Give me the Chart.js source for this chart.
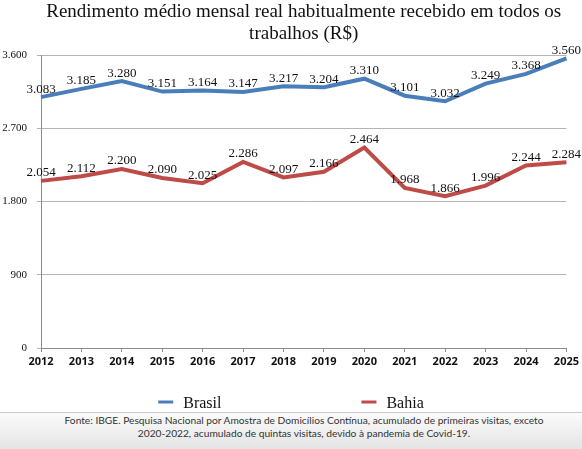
<!DOCTYPE html>
<html lang="pt-BR">
<head>
    <meta charset="UTF-8">
    <title>Rendimento médio mensal real</title>
    <script src="https://cdn.jsdelivr.net/npm/chart.js"></script>
    <style>
        html, body {
            margin: 0;
            padding: 0;
            background: #ffffff;
        }

        #wrap {
            width: 582px;
            height: 449px;
            overflow: hidden;
        }

        #footer {
            height: 37px;
            border-top: 1px solid #c8c8c8;
            background: linear-gradient(#fbfbfb, #e4e4e4);
            box-sizing: border-box;
            font-family: Lato, sans-serif;
            font-size: 10.2px;
            line-height: 13px;
            color: #333;
            text-align: center;
            padding: 1px 0 0 26px;
        }
    </style>
</head>
<body>
    <div id="wrap">
        <canvas id="chart" width="582" height="412"></canvas>
        <div id="footer">
            Fonte: IBGE. Pesquisa Nacional por Amostra de Domicílios Contínua, acumulado de primeiras visitas, exceto<br>
            2020-2022, acumulado de quintas visitas, devido à pandemia de Covid-19.
        </div>
    </div>

    <script>
        const years = ['2012', '2013', '2014', '2015', '2016', '2017', '2018', '2019', '2020', '2021', '2022', '2023', '2024', '2025'];
        const brasil = [3083, 3185, 3280, 3151, 3164, 3147, 3217, 3204, 3310, 3101, 3032, 3249, 3368, 3560];
        const bahia = [2054, 2112, 2200, 2090, 2025, 2286, 2097, 2166, 2464, 1968, 1866, 1996, 2244, 2284];
        const yTicks = [0, 900, 1800, 2700, 3600];

        const BLUE = '#4a7ebb';
        const RED = '#be4b48';

        function fmt(v) {
            return String(v).replace(/\B(?=(\d{3})+(?!\d))/g, '.');
        }

        // numbers above every point
        const pointLabels = {
            id: 'pointLabels',
            afterDatasetsDraw(chart) {
                const ctx = chart.ctx;
                ctx.save();
                ctx.font = '13px "Liberation Serif", serif';
                ctx.fillStyle = '#111';
                ctx.textAlign = 'center';
                ctx.textBaseline = 'middle';
                chart.data.datasets.forEach((ds, i) => {
                    chart.getDatasetMeta(i).data.forEach((pt, j) => {
                        ctx.fillText(fmt(ds.data[j]), pt.x, pt.y - 8);
                    });
                });
                ctx.restore();
            }
        };

        // legend with wide gap, like the original
        const wideLegend = {
            id: 'wideLegend',
            afterDraw(chart) {
                const ctx = chart.ctx;
                const gap = 140;
                const marker = 15;
                const y = 404;
                ctx.save();
                ctx.font = '16px "Liberation Serif", serif';
                const items = chart.data.datasets.map(ds => ({
                    text: ds.label,
                    color: ds.borderColor,
                    w: marker + 10 + ctx.measureText(ds.label).width
                }));
                const total = items.reduce((s, it) => s + it.w, 0) + gap * (items.length - 1);
                let x = chart.width / 2 - total / 2;
                items.forEach(it => {
                    ctx.strokeStyle = it.color;
                    ctx.lineWidth = 3;
                    ctx.beginPath();
                    ctx.moveTo(x, y - 2);
                    ctx.lineTo(x + marker, y - 2);
                    ctx.stroke();
                    ctx.fillStyle = '#111';
                    ctx.textAlign = 'left';
                    ctx.textBaseline = 'middle';
                    ctx.fillText(it.text, x + marker + 10, y);
                    x += it.w + gap;
                });
                ctx.restore();
            }
        };

        const ctx = document.getElementById('chart').getContext('2d');
        new Chart(ctx, {
            type: 'line',
            data: {
                labels: years,
                datasets: [{
                    label: 'Brasil',
                    data: brasil,
                    borderColor: BLUE,
                    backgroundColor: BLUE,
                    borderWidth: 4,
                    pointRadius: 0,
                    tension: 0
                }, {
                    label: 'Bahia',
                    data: bahia,
                    borderColor: RED,
                    backgroundColor: RED,
                    borderWidth: 4,
                    pointRadius: 0,
                    tension: 0
                }]
            },
            options: {
                responsive: false,
                animation: false,
                devicePixelRatio: 1,
                layout: {
                    padding: { left: 0, right: 15, top: 0, bottom: 0 }
                },
                plugins: {
                    legend: { display: false },
                    tooltip: { enabled: false },
                    title: {
                        display: true,
                        fullSize: false,
                        text: ['Rendimento médio mensal real habitualmente recebido em todos os', 'trabalhos (R$)'],
                        color: '#111',
                        font: { family: '"Liberation Serif", serif', size: 19, weight: 'normal', lineHeight: 1.16 },
                        padding: { top: 1, bottom: 10 }
                    }
                },
                scales: {
                    x: {
                        offset: false,
                        afterFit(scale) { scale.height = 64; },
                        border: { color: '#8c8c8c', width: 1 },
                        grid: { drawOnChartArea: false, drawTicks: true, tickLength: 4, color: '#8c8c8c' },
                        ticks: {
                            color: '#111',
                            padding: 3,
                            maxRotation: 0,
                            autoSkip: false,
                            font: { family: '"Open Sans", sans-serif', size: 11, weight: 'bold' }
                        }
                    },
                    y: {
                        min: 0,
                        max: 3600,
                        afterFit(scale) { scale.width = 41; },
                        afterBuildTicks(scale) { scale.ticks = yTicks.map(v => ({ value: v })); },
                        border: { color: '#8c8c8c', width: 1 },
                        grid: { color: '#b4b4b4', drawTicks: true, tickLength: 4 },
                        ticks: {
                            color: '#111',
                            padding: 10,
                            callback: v => fmt(v),
                            font: { family: '"Liberation Serif", serif', size: 11 }
                        }
                    }
                }
            },
            plugins: [pointLabels, wideLegend]
        });
    </script>
</body>
</html>
